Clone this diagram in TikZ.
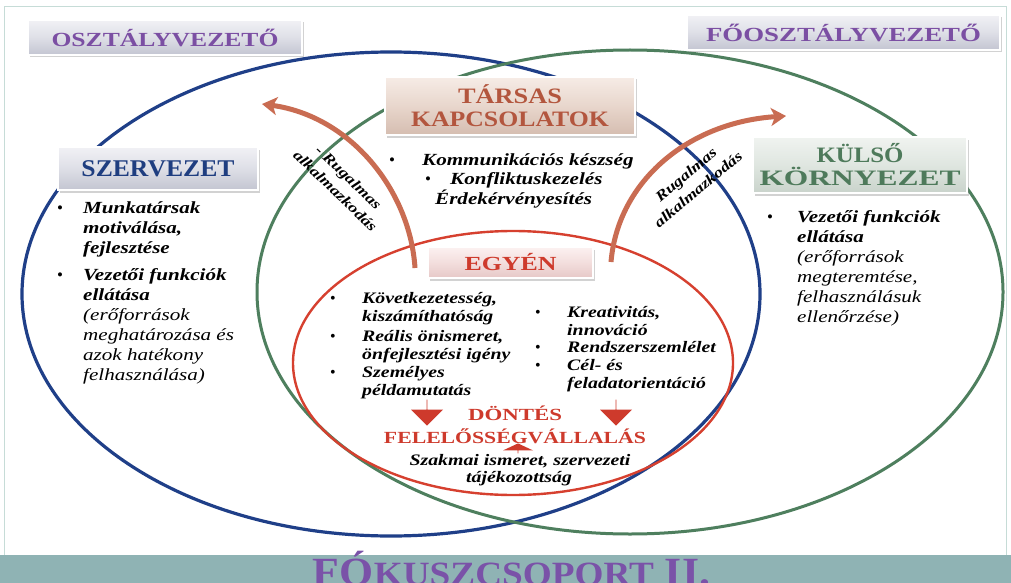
\documentclass[tikz,border=0pt]{standalone}
\usepackage{graphicx}
\usepackage{fontspec}
\setmainfont{Liberation Serif}
\newfontfamily\bodyfont{Liberation Serif}[FakeStretch=1.24]
\usetikzlibrary{shadows,arrows.meta,shapes.arrows}

\definecolor{navy}{HTML}{1F3F88}
\definecolor{sage}{HTML}{4E7F5E}
\definecolor{crimson}{HTML}{D6402F}
\definecolor{rust}{HTML}{C96C52}
\definecolor{violet}{HTML}{7B4FA3}
\definecolor{titleviolet}{HTML}{7A52A8}
\definecolor{bannerteal}{HTML}{8FB3B4}
\definecolor{framegray}{HTML}{C6DCD7}
\definecolor{brick}{HTML}{B3563E}
\definecolor{moss}{HTML}{4E7A5B}
\definecolor{headred}{HTML}{CE3A2C}
\definecolor{deepnavy}{HTML}{1F3E80}
\definecolor{grayTop}{HTML}{F1F1F5}
\definecolor{grayMid}{HTML}{DEDFE7}
\definecolor{grayBot}{HTML}{C3C5D1}
\definecolor{roseTop}{HTML}{F6ECE6}
\definecolor{roseMid}{HTML}{E8D6CC}
\definecolor{roseBot}{HTML}{D5BDB0}
\definecolor{mintTop}{HTML}{F0F3F0}
\definecolor{mintMid}{HTML}{DFE6E0}
\definecolor{mintBot}{HTML}{C9D3CB}
\definecolor{pinkTop}{HTML}{FCF1F1}
\definecolor{pinkMid}{HTML}{F3DEDD}
\definecolor{pinkBot}{HTML}{E6C8C7}

% stretch a line of text to a given width, keeping its height
\newcommand\fitw[2]{\resizebox{#1}{\height}{#2}}

\tikzset{
  tag/.style={rectangle, draw=white, line width=1.5pt, inner sep=0pt, align=center,
    drop shadow={opacity=0.35, shadow xshift=2pt, shadow yshift=-2.5pt}},
  graytag/.style={tag, top color=grayTop, bottom color=grayBot, middle color=grayMid},
  rosetag/.style={tag, top color=roseTop, bottom color=roseBot, middle color=roseMid},
  minttag/.style={tag, top color=mintTop, bottom color=mintBot, middle color=mintMid},
  pinktag/.style={tag, top color=pinkTop, bottom color=pinkBot, middle color=pinkMid},
  body/.style={inner sep=0pt, anchor=north west, align=left,
    font=\bodyfont\bfseries\itshape\fontsize{17}{20}\selectfont},
  smallbody/.style={inner sep=0pt, anchor=north west, align=left,
    font=\bodyfont\bfseries\itshape\fontsize{16}{18.5}\selectfont},
  line/.style={inner sep=0pt, anchor=base west,
    font=\bodyfont\bfseries\itshape\fontsize{17}{20}\selectfont},
  dot/.style={inner sep=0pt, anchor=base, font=\fontsize{17}{20}\selectfont},
  smalldot/.style={inner sep=0pt, anchor=base, font=\fontsize{16}{18}\selectfont},
  rlabel/.style={inner sep=0pt, align=center,
    font=\bodyfont\bfseries\itshape\fontsize{14.5}{19}\selectfont},
  flexarrow/.style={rust, line width=5pt, -{Stealth[length=15pt,width=18pt,inset=4pt]}},
  blockarrow/.style={single arrow, fill=headred, inner sep=0pt,
    single arrow head extend=9pt, single arrow head indent=0pt},
}

\begin{document}
\begin{tikzpicture}[x=1pt,y=-1pt]
\useasboundingbox (0,0) rectangle (1011,583);
\fill[white] (0,0) rectangle (1011,583);
\draw[framegray, line width=1pt] (4.5,6.5) rectangle (1006.5,555);
\fill[bannerteal] (0,555) rectangle (1011,583);

% the three rings
\draw[navy, line width=3.2pt] (391,294) ellipse [x radius=369, y radius=242];
\draw[sage, line width=3pt] (630,292) ellipse [x radius=373, y radius=242];
\draw[crimson, line width=2.4pt] (513,363) ellipse [x radius=220, y radius=132];

% curved adaptation arrows
\coordinate (lt) at (415,268);
\coordinate (lh) at (262,104);
\coordinate (rt) at (611,262);
\coordinate (rh) at (786,116);
\draw[flexarrow] (lt) .. controls (410,190) and (350,116) .. (lh);
\draw[flexarrow] (rt) .. controls (618,180) and (690,122) .. (rh);
\node[rlabel, rotate=-44] (flexL) at (342,184) {- Rugalmas\\alkalmazkodás};
\node[rlabel, rotate=40] (flexR) at (692,182) {Rugalmas\\alkalmazkodás};

% title tags
\node[graytag, minimum width=274pt, minimum height=35pt, text=violet,
  font=\bfseries\fontsize{20}{22}\selectfont] (osz) at (165,37.5) {\fitw{227pt}{OSZTÁLYVEZETŐ}};
\node[graytag, minimum width=313pt, minimum height=35pt, text=violet,
  font=\bfseries\fontsize{20}{22}\selectfont] (fo) at (843.5,32.5) {\fitw{275pt}{FŐOSZTÁLYVEZETŐ}};
\node[graytag, minimum width=200pt, minimum height=43pt, text=deepnavy,
  font=\bfseries\fontsize{24}{26}\selectfont] (szerv) at (158,168.5) {\fitw{153pt}{SZERVEZET}};
\node[rosetag, minimum width=250pt, minimum height=58pt, text=brick,
  font=\bfseries\fontsize{22}{23}\selectfont] (tars) at (510,106) {\fitw{104pt}{TÁRSAS}\\\fitw{198pt}{KAPCSOLATOK}};
\node[minttag, minimum width=214pt, minimum height=56pt, text=moss,
  font=\bfseries\fontsize{22}{23}\selectfont] (kulso) at (860,165) {\fitw{87pt}{KÜLSŐ}\\\fitw{201pt}{KÖRNYEZET}};
\node[pinktag, minimum width=165pt, minimum height=31pt, text=headred,
  font=\bfseries\fontsize{20}{22}\selectfont] (egyen) at (510.5,262.5) {\fitw{92pt}{EGYÉN}};

% organisation column
\node[dot] (sb1) at (60,213) {•};
\node[body] (s1) at (83,201) {Munkatársak\\motiválása,\\fejlesztése};
\node[dot] (sb2) at (60,280) {•};
\node[body] (s2) at (83,268) {Vezetői funkciók\\ellátása\\{\mdseries(erőforrások}\\{\mdseries meghatározása és}\\{\mdseries azok hatékony}\\{\mdseries felhasználása)}};

% social relations
\node[dot] (tb1) at (392,165) {•};
\node[line] (t1) at (422,165) {Kommunikációs készség};
\node[dot] (tb2) at (428,184) {•};
\node[line] (t2) at (450,184) {Konfliktuskezelés};
\node[line] (t3) at (435,204) {Érdekérvényesítés};

% external environment
\node[dot] (kb1) at (770,222) {•};
\node[body] (k1) at (797,210) {Vezetői funkciók\\ellátása\\{\mdseries(erőforrások}\\{\mdseries megteremtése,}\\{\mdseries felhasználásuk}\\{\mdseries ellenőrzése)}};

% individual
\node[smalldot] (eb1) at (333,303) {•};
\node[smallbody] (e1) at (362,292) {Következetesség,\\kiszámíthatóság};
\node[smalldot] (eb2) at (333,341) {•};
\node[smallbody] (e2) at (362,330) {Reális önismeret,\\önfejlesztési igény};
\node[smalldot] (eb3) at (333,377) {•};
\node[smallbody] (e3) at (362,366) {Személyes\\példamutatás};
\node[smalldot] (rb1) at (538,317) {•};
\node[smallbody] (r1) at (567,306) {Kreativitás,\\innováció};
\node[smalldot] (rb2) at (538,352) {•};
\node[smallbody] (r2) at (567,341) {Rendszerszemlélet};
\node[smalldot] (rb3) at (538,370) {•};
\node[smallbody] (r3) at (567,359) {Cél- és\\feladatorientáció};

% decision block
\node[blockarrow, shape border rotate=270, minimum height=26pt, minimum width=32pt] (downL) at (427,412.5) {};
\node[blockarrow, shape border rotate=270, minimum height=26pt, minimum width=32pt] (downR) at (616,412.5) {};
\node[blockarrow, shape border rotate=90, minimum height=10pt, minimum width=30pt,
  single arrow head extend=9pt, single arrow tip angle=130] (upC) at (518,448.5) {};
\node[inner sep=0pt, text=headred, font=\bfseries\fontsize{17}{19}\selectfont] (dontes) at (515,413) {\fitw{94pt}{DÖNTÉS}};
\node[inner sep=0pt, text=headred, font=\bfseries\fontsize{17}{19}\selectfont] (felelos) at (515,436) {\fitw{262pt}{FELELŐSSÉGVÁLLALÁS}};
\node[inner sep=0pt, font=\bodyfont\bfseries\itshape\fontsize{16}{18}\selectfont] (szakmai) at (520,461) {Szakmai ismeret, szervezeti};
\node[inner sep=0pt, font=\bodyfont\bfseries\itshape\fontsize{16}{18}\selectfont] (tajek) at (519,479) {tájékozottság};

% banner title, running off the lower edge
\node[inner sep=0pt, anchor=base, text=titleviolet, font=\bfseries] (title) at (511.5,585)
  {\fitw{397pt}{{\fontsize{40}{40}\selectfont FÓ}{\fontsize{34}{34}\selectfont KUSZCSOPORT}{\fontsize{40}{40}\selectfont\ II.}}};
\end{tikzpicture}
\end{document}
